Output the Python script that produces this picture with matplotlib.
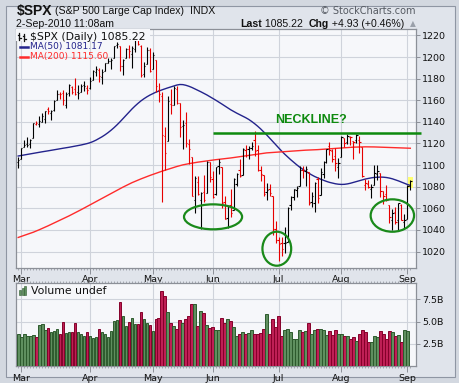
import numpy as np
import pandas as pd
import matplotlib
matplotlib.use('Agg')
import matplotlib.pyplot as plt
from matplotlib.patches import Ellipse, Rectangle
from matplotlib.lines import Line2D

# ---------------- data ----------------
dates = pd.bdate_range('2010-02-26', '2010-09-02')
dates = dates[~dates.isin(pd.to_datetime(['2010-04-02', '2010-05-31', '2010-07-05']))]

opens = [1103.1, 1105.4, 1117.0, 1119.4, 1119.1, 1125.1, 1138.4, 1137.6, 1140.2, 1143.0,
         1151.7, 1148.5, 1150.8, 1159.9, 1166.1, 1166.7, 1155.4, 1166.5, 1172.7, 1170.0,
         1167.6, 1167.7, 1173.8, 1171.8, 1171.2, 1178.7, 1186.0, 1188.2, 1181.8, 1187.5,
         1194.9, 1195.9, 1198.7, 1210.8, 1210.2, 1192.1, 1199.0, 1207.2, 1202.5, 1207.9,
         1217.1, 1209.9, 1184.6, 1193.3, 1206.8, 1188.6, 1197.5, 1169.2, 1164.4, 1127.0,
         1122.3, 1156.4, 1155.4, 1170.0, 1157.2, 1136.5, 1138.8, 1119.6, 1107.3, 1067.3,
         1084.8, 1067.4, 1075.5, 1074.3, 1102.6, 1087.3, 1073.0, 1098.8, 1098.4, 1065.8,
         1050.8, 1062.8, 1058.8, 1082.7, 1095.0, 1091.2, 1114.0, 1115.0, 1116.2, 1122.8,
         1113.9, 1095.6, 1090.9, 1075.1, 1077.5, 1071.1, 1040.6, 1031.1, 1027.6, 1028.1,
         1028.5, 1062.9, 1070.5, 1077.2, 1080.7, 1095.6, 1094.5, 1093.9, 1066.0, 1064.5,
         1086.7, 1072.1, 1092.2, 1102.9, 1117.4, 1112.8, 1108.1, 1098.4, 1107.5, 1125.3,
         1121.1, 1125.8, 1122.1, 1122.8, 1122.9, 1116.9, 1081.5, 1082.2, 1077.5, 1081.2,
         1092.1, 1092.4, 1075.6, 1073.4, 1063.2, 1049.0, 1056.3, 1049.3, 1062.9, 1046.9,
         1049.7, 1080.7]
highs = [1107.2, 1116.1, 1123.5, 1125.6, 1123.7, 1139.4, 1141.1, 1145.4, 1148.3, 1150.2,
         1153.4, 1150.9, 1160.3, 1169.8, 1167.8, 1169.2, 1167.8, 1174.7, 1173.0, 1180.7,
         1173.9, 1174.9, 1177.8, 1174.6, 1181.4, 1187.7, 1191.8, 1189.6, 1188.6, 1194.7,
         1199.2, 1199.0, 1210.7, 1213.9, 1210.2, 1197.9, 1208.6, 1211.0, 1210.3, 1217.3,
         1219.8, 1211.4, 1195.1, 1209.4, 1208.0, 1205.1, 1197.5, 1175.9, 1167.6, 1135.1,
         1163.9, 1170.5, 1172.9, 1173.6, 1157.2, 1141.9, 1148.7, 1124.3, 1107.3, 1090.2,
         1090.0, 1074.8, 1090.8, 1103.5, 1102.6, 1094.8, 1098.6, 1105.7, 1098.4, 1071.4,
         1063.2, 1077.7, 1087.9, 1092.3, 1105.9, 1115.6, 1118.7, 1117.7, 1121.0, 1131.2,
         1118.5, 1099.6, 1090.9, 1083.6, 1082.6, 1071.1, 1048.1, 1033.6, 1033.0, 1042.5,
         1060.9, 1071.3, 1078.2, 1080.8, 1099.5, 1099.1, 1098.7, 1093.9, 1074.7, 1083.9,
         1089.0, 1097.5, 1103.7, 1115.0, 1121.0, 1114.7, 1115.9, 1106.4, 1127.3, 1125.4,
         1128.8, 1126.6, 1122.1, 1129.2, 1127.2, 1116.9, 1086.7, 1086.3, 1082.6, 1100.1,
         1099.8, 1092.4, 1075.6, 1081.6, 1063.2, 1059.4, 1061.5, 1065.2, 1064.4, 1055.1,
         1081.3, 1085.8]
lows = [1097.6, 1105.4, 1116.5, 1116.6, 1116.1, 1125.1, 1136.8, 1134.9, 1140.1, 1138.9,
        1146.9, 1141.5, 1150.4, 1159.9, 1161.2, 1155.5, 1152.9, 1163.8, 1166.0, 1165.1,
        1161.5, 1167.7, 1168.5, 1165.8, 1170.7, 1178.7, 1182.8, 1177.3, 1175.1, 1187.2,
        1194.7, 1188.8, 1198.7, 1208.5, 1186.8, 1183.7, 1199.0, 1198.9, 1190.2, 1205.1,
        1211.1, 1181.6, 1181.8, 1193.3, 1186.3, 1188.6, 1168.1, 1158.2, 1065.8, 1095.0,
        1122.3, 1147.7, 1155.4, 1156.1, 1126.1, 1115.0, 1117.2, 1100.7, 1071.6, 1055.9,
        1072.7, 1040.8, 1065.6, 1074.3, 1084.8, 1069.9, 1072.7, 1091.8, 1060.5, 1049.9,
        1042.2, 1052.3, 1058.8, 1080.3, 1089.0, 1091.2, 1107.1, 1105.9, 1113.9, 1108.2,
        1094.2, 1085.3, 1071.6, 1067.9, 1071.5, 1035.2, 1028.3, 1010.9, 1015.9, 1018.4,
        1028.5, 1058.2, 1068.1, 1070.5, 1080.7, 1087.7, 1080.5, 1063.3, 1061.1, 1056.9,
        1065.3, 1072.1, 1087.9, 1101.8, 1109.8, 1103.1, 1094.9, 1088.0, 1107.5, 1116.8,
        1119.5, 1118.8, 1105.6, 1120.9, 1111.0, 1089.0, 1076.7, 1079.0, 1069.5, 1081.2,
        1085.8, 1070.7, 1063.9, 1067.1, 1046.7, 1039.8, 1045.4, 1039.7, 1048.8, 1040.9,
        1049.7, 1076.6]
closes = [1104.5, 1115.7, 1118.3, 1118.8, 1123.0, 1138.7, 1138.5, 1140.5, 1145.6, 1150.2,
          1150.0, 1150.5, 1159.5, 1166.2, 1165.8, 1159.9, 1165.8, 1174.2, 1167.7, 1165.7,
          1166.6, 1173.2, 1173.3, 1169.4, 1178.1, 1187.4, 1189.4, 1182.5, 1186.4, 1194.4,
          1196.5, 1197.3, 1210.7, 1211.7, 1192.1, 1197.5, 1207.2, 1205.9, 1208.7, 1217.3,
          1212.1, 1183.7, 1191.4, 1206.8, 1186.7, 1202.3, 1173.6, 1165.9, 1128.2, 1110.9,
          1159.7, 1155.8, 1171.7, 1157.4, 1135.7, 1136.9, 1120.8, 1115.1, 1071.6, 1087.7,
          1073.7, 1074.0, 1068.0, 1103.1, 1089.4, 1070.7, 1098.4, 1102.8, 1064.9, 1050.5,
          1062.0, 1055.7, 1086.8, 1091.6, 1089.6, 1115.2, 1114.6, 1116.0, 1117.5, 1113.2,
          1095.3, 1092.0, 1073.7, 1076.8, 1074.6, 1041.2, 1030.7, 1027.4, 1022.6, 1028.1,
          1060.3, 1070.3, 1078.0, 1078.8, 1095.3, 1095.2, 1096.5, 1064.9, 1071.3, 1083.5,
          1069.6, 1093.7, 1102.7, 1115.0, 1113.8, 1106.1, 1101.5, 1101.6, 1125.9, 1120.5,
          1127.2, 1125.8, 1121.6, 1127.8, 1121.1, 1089.5, 1083.6, 1079.3, 1079.4, 1092.5,
          1094.2, 1075.6, 1071.7, 1067.4, 1051.9, 1055.3, 1047.2, 1064.6, 1048.9, 1049.3,
          1080.3, 1085.2]
volume_b = [3.66, 3.28, 3.66, 3.43, 3.43, 3.54, 3.28, 4.66, 4.78, 4.10,
            4.29, 3.81, 3.92, 4.22, 3.66, 5.00, 3.73, 3.81, 3.88, 4.85,
            3.84, 3.66, 3.36, 3.84, 3.43, 3.10, 3.30, 4.22, 3.84, 3.58,
            3.25, 3.92, 5.04, 5.22, 7.16, 5.63, 4.48, 5.00, 5.45, 4.70,
            4.70, 6.12, 5.34, 4.89, 4.60, 3.92, 5.26, 5.45, 8.50, 7.90,
            6.08, 4.89, 4.48, 4.14, 5.15, 4.89, 5.26, 5.60, 6.94, 6.94,
            4.48, 6.16, 6.00, 4.59, 4.29, 4.37, 4.10, 4.10, 5.37, 4.81,
            5.26, 5.11, 4.37, 3.43, 3.58, 3.88, 3.62, 3.69, 4.03, 3.58,
            3.66, 3.77, 4.22, 5.82, 3.58, 5.34, 4.44, 5.60, 3.43, 4.07,
            4.22, 3.88, 2.99, 2.99, 4.10, 3.81, 3.99, 4.89, 3.66, 4.07,
            4.22, 4.22, 4.03, 3.47, 3.99, 3.47, 4.10, 3.66, 3.58, 3.43,
            3.43, 2.99, 3.32, 2.87, 3.58, 4.10, 3.81, 2.76, 2.65, 3.43,
            3.32, 3.99, 3.58, 2.99, 3.99, 3.84, 3.43, 3.54, 2.76, 4.10,
            3.99, np.nan]
ma50 = [1108.4, 1108.9, 1109.4, 1109.9, 1110.4, 1110.9, 1111.4, 1111.9, 1112.3, 1112.7,
        1113.2, 1113.7, 1114.2, 1114.7, 1115.2, 1115.6, 1116.0, 1116.5, 1117.0, 1117.5,
        1118.0, 1118.6, 1119.2, 1119.9, 1120.7, 1121.8, 1123.1, 1124.6, 1126.2, 1128.0,
        1130.0, 1132.2, 1134.6, 1137.2, 1140.0, 1143.0, 1146.0, 1149.0, 1151.9, 1154.6,
        1157.1, 1159.4, 1161.4, 1163.2, 1164.8, 1166.2, 1167.5, 1168.6, 1169.6, 1170.6,
        1171.5, 1172.4, 1173.2, 1174.1, 1174.6, 1174.5, 1173.9, 1173.0, 1171.9, 1170.6,
        1169.3, 1167.9, 1166.5, 1165.0, 1163.4, 1161.8, 1160.1, 1158.4, 1156.6, 1154.8,
        1153.0, 1151.2, 1149.6, 1148.1, 1146.7, 1145.3, 1143.9, 1142.3, 1140.4, 1138.3,
        1136.0, 1133.5, 1130.8, 1128.0, 1125.0, 1122.0, 1119.0, 1116.0, 1113.0, 1110.2,
        1107.6, 1105.1, 1102.7, 1100.4, 1098.2, 1096.2, 1094.3, 1092.6, 1091.0, 1089.5,
        1088.2, 1087.0, 1085.9, 1084.9, 1084.0, 1083.3, 1082.7, 1082.3, 1082.1, 1082.2,
        1082.6, 1083.2, 1084.0, 1084.8, 1085.6, 1086.4, 1087.1, 1087.7, 1088.2, 1088.6,
        1088.8, 1088.9, 1088.8, 1088.5, 1088.0, 1087.3, 1086.4, 1085.4, 1084.3, 1083.2,
        1082.1, 1081.2]
ma200 = [1033.0, 1034.0, 1035.0, 1035.9, 1036.8, 1037.8, 1038.9, 1040.1, 1041.3, 1042.5,
         1043.8, 1045.1, 1046.4, 1047.7, 1049.0, 1050.3, 1051.6, 1053.0, 1054.4, 1055.8,
         1057.2, 1058.7, 1060.2, 1061.7, 1063.2, 1064.7, 1066.2, 1067.7, 1069.2, 1070.7,
         1072.1, 1073.6, 1075.1, 1076.6, 1078.1, 1079.6, 1081.0, 1082.4, 1083.7, 1084.9,
         1086.1, 1087.2, 1088.3, 1089.4, 1090.4, 1091.4, 1092.4, 1093.4, 1094.3, 1095.2,
         1096.1, 1097.0, 1097.9, 1098.7, 1099.5, 1100.2, 1100.8, 1101.3, 1101.8, 1102.3,
         1102.7, 1103.1, 1103.5, 1103.9, 1104.3, 1104.7, 1105.0, 1105.3, 1105.6, 1105.9,
         1106.2, 1106.6, 1107.0, 1107.4, 1107.8, 1108.2, 1108.6, 1109.0, 1109.4, 1109.8,
         1110.2, 1110.6, 1111.0, 1111.3, 1111.5, 1111.7, 1111.9, 1112.1, 1112.3, 1112.5,
         1112.7, 1112.9, 1113.1, 1113.3, 1113.5, 1113.7, 1113.8, 1113.9, 1114.0, 1114.1,
         1114.3, 1114.5, 1114.7, 1114.9, 1115.1, 1115.3, 1115.5, 1115.7, 1115.9, 1116.1,
         1116.3, 1116.5, 1116.6, 1116.7, 1116.8, 1116.8, 1116.9, 1116.9, 1116.9, 1116.8,
         1116.7, 1116.6, 1116.5, 1116.4, 1116.3, 1116.2, 1116.1, 1116.0, 1115.9, 1115.8,
         1115.7, 1115.6]

price_ticks = [1020, 1040, 1060, 1080, 1100, 1120, 1140, 1160, 1180, 1200, 1220]
vol_ticks = [2.5, 5.0, 7.5]
vol_tick_labels = ['2.5B', '5.0B', '7.5B']
neckline_level = 1130

# ---------------- layout helpers ----------------
W, H = 460, 383
fig = plt.figure(figsize=(W / 100, H / 100), dpi=100)
fig.patch.set_facecolor('#d3d8e0')

def fx(px):
    return px / W

def fy(py):
    return 1 - py / H

def box(l, t, r, b):
    return [l / W, 1 - b / H, (r - l) / W, (b - t) / H]

# outer panel (drawn behind everything)
panel = Rectangle((fx(6), fy(377)), fx(449), 371 / H, transform=fig.transFigure,
                  facecolor='#e0e4eb', edgecolor='#8f96a3', lw=0.8, zorder=-10)
fig.patches.append(panel)

AX_BG = '#f6f7fa'
GRID = '#cfd3db'
SPINE = '#8c9098'
BLACK = '#000000'
RED = '#e60000'
GREEN_VOL = '#5f8f5f'
GREEN_VOL_E = '#2d5a2d'
RED_VOL = '#bf1f55'
RED_VOL_E = '#85002a'

closes_a = np.array(closes)
x = np.arange(len(closes_a))
prev = np.r_[closes_a[0] - 1, closes_a[:-1]]
up = closes_a >= prev

xmin, xmax = -0.63, 132.8

# month ticks
mt_idx, mt_lab = [], []
for i, d in enumerate(dates):
    if i > 0 and d.month != dates[i - 1].month:
        mt_idx.append(i)
        mt_lab.append(d.strftime('%b'))

def style_axis(ax):
    ax.set_facecolor(AX_BG)
    for s in ax.spines.values():
        s.set_color(SPINE)
        s.set_linewidth(0.9)
    ax.set_xlim(xmin, xmax)
    ax.yaxis.tick_right()
    ax.tick_params(axis='y', which='both', direction='out', length=3, width=0.7,
                   colors=SPINE, labelcolor='#111111', labelsize=6.8, pad=1.5)
    ax.set_xticks(mt_idx)
    ax.set_xticklabels(mt_lab)
    ax.set_xticks(x, minor=True)
    ax.tick_params(axis='x', which='major', direction='out', length=4, width=0.7,
                   colors=SPINE, labelcolor='#111111', labelsize=6.8, pad=1.5)
    ax.tick_params(axis='x', which='minor', direction='out', length=1.5, width=0.6,
                   colors='#9a9ea6')
    ax.grid(True, which='major', color=GRID, lw=0.8)
    ax.set_axisbelow(True)

# ---------------- price panel ----------------
ax = fig.add_axes(box(16.3, 29.3, 415.7, 267.5))
style_axis(ax)
ax.set_ylim(1005.2, 1225.7)
ax.set_yticks(price_ticks)
ax.set_yticklabels([str(v) for v in price_ticks])

# highlight of last price
ax.add_patch(Rectangle((x[-1] - 0.8, 1079.2), 1.6, 9.6, facecolor='#ffff70',
                       edgecolor='none', zorder=1.5))

cols = [BLACK if u else RED for u in up]
ax.vlines(x, lows, highs, colors=cols, lw=0.8, zorder=3)
ax.hlines(opens, x - 0.42, x, colors=cols, lw=0.8, zorder=3)
ax.hlines(closes, x, x + 0.42, colors=cols, lw=0.8, zorder=3)

ax.plot(x, ma50, color='#23238c', lw=1.0, zorder=2.5)
ax.plot(x, ma200, color='#ff2b2b', lw=1.0, zorder=2.5)

# annotations
ax.plot([65.1, 134.6], [neckline_level, neckline_level], color='#0e8a0e', lw=1.8,
        zorder=4, clip_on=False, solid_capstyle='butt')
ax.text(97.8, 1141.8, 'NECKLINE?', color='#0e8a0e', fontsize=9, fontweight='bold',
        family='Liberation Sans', ha='center', va='center', zorder=5)
for cx, cy, w, h in [(65.1, 1052.1, 19.4, 23.1), (86.4, 1022.6, 9.6, 31.5),
                     (125.0, 1053.3, 14.5, 30.0)]:
    ax.add_patch(Ellipse((cx, cy), w, h, fill=False, edgecolor='#1a8a1a', lw=1.6,
                         zorder=4, clip_on=False))

# legend box covering top-left
ax.add_patch(Rectangle((0, 0.949), 0.335, 0.051, transform=ax.transAxes,
                       facecolor=AX_BG, edgecolor='none', zorder=5))
fig.text(fx(29.5), fy(36.5), '$SPX (Daily) 1085.22', fontsize=7.8, color='#111111',
         va='center', ha='left', zorder=6)
# small bar glyph
for gx, y0, y1 in [(19.5, 32.5, 39.5), (24.5, 33.5, 40.5)]:
    fig.add_artist(Line2D([fx(gx), fx(gx)], [fy(y0), fy(y1)], color='#111111', lw=0.9, zorder=6))
    fig.add_artist(Line2D([fx(gx - 1.5), fx(gx)], [fy(y0 + 2), fy(y0 + 2)], color='#111111', lw=0.9, zorder=6))
    fig.add_artist(Line2D([fx(gx), fx(gx + 1.5)], [fy(y1 - 2), fy(y1 - 2)], color='#111111', lw=0.9, zorder=6))
fig.add_artist(Line2D([fx(20.5), fx(28)], [fy(47), fy(47)], color='#23238c', lw=1.8, zorder=6))
fig.text(fx(29.5), fy(47), 'MA(50) 1081.17', fontsize=6.5, color='#23238c', va='center', ha='left', zorder=6)
fig.add_artist(Line2D([fx(20.5), fx(28)], [fy(56.5), fy(56.5)], color='#ff2b2b', lw=1.8, zorder=6))
fig.text(fx(29.5), fy(56.5), 'MA(200) 1115.60', fontsize=6.5, color='#ff2b2b', va='center', ha='left', zorder=6)

# ---------------- volume panel ----------------
av = fig.add_axes(box(16.3, 283.3, 415.7, 366))
style_axis(av)
av.set_ylim(0, 9.32)
av.set_yticks(vol_ticks)
av.set_yticklabels(vol_tick_labels)
av.tick_params(axis='x', which='minor', top=True)
vcol = [GREEN_VOL if u else RED_VOL for u in up]
vedge = [GREEN_VOL_E if u else RED_VOL_E for u in up]
av.bar(x, volume_b, width=0.92, color=vcol, edgecolor=vedge, linewidth=0.7, zorder=3)
# legend
for k, hh in enumerate([5, 7, 9]):
    fig.patches.append(Rectangle((fx(19 + 2.6 * k), fy(295)), 2 / W, hh / H,
                                 transform=fig.transFigure, facecolor=GREEN_VOL,
                                 edgecolor=GREEN_VOL_E, lw=0.4, zorder=6))
fig.text(fx(31), fy(290.5), 'Volume undef', fontsize=7.8, color='#111111', va='center',
         ha='left', zorder=6)

# ---------------- header ----------------
fig.text(fx(16.5), fy(10.5), '$SPX', fontsize=10, fontweight='bold', family='Liberation Sans',
         color='#111111', va='center', ha='left')
fig.text(fx(55), fy(10.5), '(S&P 500 Large Cap Index)', fontsize=7.6, family='Liberation Sans',
         color='#111111', va='center', ha='left')
fig.text(fx(190), fy(10.5), 'INDX', fontsize=7.6, family='Liberation Sans',
         color='#111111', va='center', ha='left')
fig.text(fx(16.5), fy(24), '2-Sep-2010 11:08am', fontsize=7.6, family='Liberation Sans',
         color='#111111', va='center', ha='left')
fig.text(fx(415.5), fy(10.5), '\u00a9 StockCharts.com', fontsize=7, family='DejaVu Sans',
         color='#555a62', va='center', ha='right')
hdr = [('Last', True), (' 1085.22  ', False), ('Chg', True), (' +4.93 (+0.46%) ', False)]
renderer = fig.canvas.get_renderer()
pieces = []
total = 0
for s, b in hdr:
    t = fig.text(0, 0, s, fontsize=7.6, family='Liberation Sans',
                 fontweight='bold' if b else 'normal', color='#111111')
    w = t.get_window_extent(renderer).width
    pieces.append((t, w))
    total += w
tri_w = 8
xcur = 415.5 - tri_w - total
for t, w in pieces:
    t.set_position((fx(xcur), fy(24)))
    t.set_va('center')
    xcur += w
fig.text(fx(415.5), fy(23.5), '\u25b2', fontsize=5.5, color='#9aa0aa', va='center', ha='right')

fig.savefig('out.png', dpi=100, facecolor=fig.get_facecolor())
